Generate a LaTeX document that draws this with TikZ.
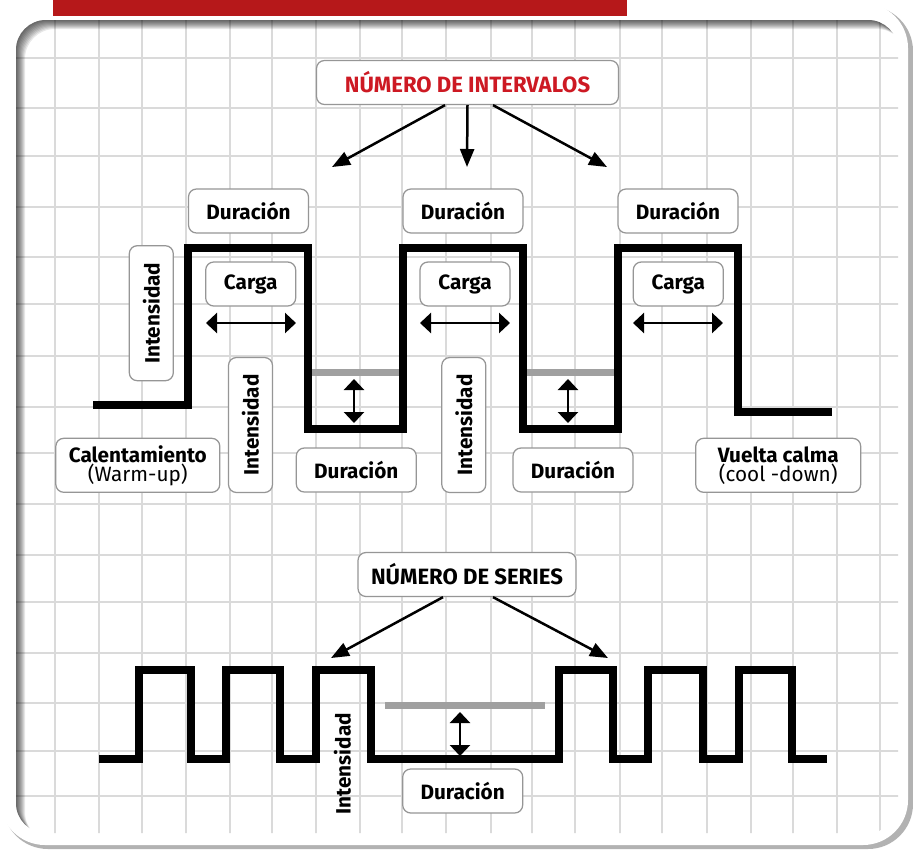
\documentclass[tikz,border=0pt]{standalone}
\usepackage{fontspec}
\setmainfont{Fira Sans}
\usepackage{tikz}
\usetikzlibrary{arrows.meta}
\definecolor{accentred}{RGB}{205, 25, 35}
\definecolor{bannerred}{RGB}{182, 24, 26}
\definecolor{boxgray}{RGB}{150, 150, 150}
\definecolor{gridgray}{RGB}{218, 218, 218}
\definecolor{bargray}{RGB}{160, 160, 160}

\begin{document}
\begin{tikzpicture}[x=0.2mm, y=-0.2mm,
    labelbox/.style={draw=boxgray, line width=0.25mm, fill=white, rounded corners=1.6mm,
        inner sep=0pt, minimum height=8.8mm, align=center,
        font=\fontsize{11.8}{10.8}\selectfont\bfseries},
    titlebox/.style={labelbox, font=\fontsize{12.6}{14}\selectfont\bfseries},
    sidebox/.style={labelbox, rotate=90, minimum width=27mm},
    wave/.style={line width=1.45mm, line join=miter},
    restbar/.style={bargray, line width=1.4mm},
    pointer/.style={line width=0.5mm, -{Triangle[length=3.6mm, width=2.8mm]}},
    rangearrow/.style={line width=0.5mm, {Triangle[length=2.2mm, width=4mm]}-{Triangle[length=2.2mm, width=4mm]}}]

    \useasboundingbox (0,0) rectangle (913,849);
    \fill[white] (0,0) rectangle (913,849);

    % frame
    \fill[black!30, rounded corners=9mm] (3,6) rectangle (913,849);
    \fill[white, rounded corners=9mm] (0,3) rectangle (908,845);
    \begin{scope}
        \clip[rounded corners=6mm] (16,20) rectangle (898,833);
        \foreach \gx in {55,99,142,186,230,272,316,360,402,446,491,532,575,620,662,707,751,793,837,880}
            \draw[gridgray, line width=0.3mm] (\gx,0) -- (\gx,849);
        \foreach \gy in {58,108,156,207,257,304,356,407,453,504,555,602,653,703,751,796}
            \draw[gridgray, line width=0.3mm] (0,\gy) -- (913,\gy);
        % sunken edge
        \foreach \k in {1,...,9}
            \fill[black, opacity=0.09, even odd rule] (0,0) rectangle (913,849)
                [rounded corners=6mm] (16+\k,20+\k) rectangle (898+\k,833+\k);
    \end{scope}
    \fill[bannerred] (53,0) rectangle (627,16);

    % intervals
    \draw[restbar] (308,372) -- (403,372);
    \draw[restbar] (523,372) -- (618,372);
    \draw[wave] (93,405) -| (188,248) -| (308,429) -| (403,248) -| (523,429) -| (618,248) -| (738,412) -- (832,412);

    \node[titlebox, text=accentred, minimum width=60.4mm] (intervals) at (467.5,82.5) {NÚMERO DE INTERVALOS};
    \coordinate (tipA) at (332,167);
    \coordinate (tipB) at (467,167);
    \coordinate (tipC) at (607,167);
    \draw[pointer] ([xshift=-4.5mm]intervals.south) -- (tipA);
    \draw[pointer] (intervals.south) -- (tipB);
    \draw[pointer] ([xshift=5.1mm]intervals.south) -- (tipC);

    \node[labelbox, minimum width=24mm] (durA) at (248.5,211) {Duración};
    \node[labelbox, minimum width=24mm] (durB) at (463,211) {Duración};
    \node[labelbox, minimum width=24mm] (durC) at (678,211) {Duración};

    \node[labelbox, minimum width=18mm] (loadA) at (250.7,284) {Carga};
    \node[labelbox, minimum width=18mm] (loadB) at (465,284) {Carga};
    \node[labelbox, minimum width=18mm] (loadC) at (678.3,284) {Carga};
    \foreach \lx/\rx [count=\i] in {206/296, 420/510, 633/723} {
        \coordinate (loadL\i) at (\lx,323);
        \coordinate (loadR\i) at (\rx,323);
        \draw[rangearrow] (loadL\i) -- (loadR\i);
    }

    \node[sidebox] (intA) at (151.3,313.2) {Intensidad};
    \node[sidebox] (intB) at (250.5,425) {Intensidad};
    \node[sidebox] (intC) at (463.8,425) {Intensidad};
    \foreach \dx [count=\i] in {354, 568} {
        \coordinate (dropT\i) at (\dx,379);
        \coordinate (dropB\i) at (\dx,423);
        \draw[rangearrow] (dropT\i) -- (dropB\i);
    }

    \node[labelbox, minimum width=24mm] (restA) at (356.3,470) {Duración};
    \node[labelbox, minimum width=24mm] (restB) at (573,470) {Duración};
    \node[labelbox, minimum width=32.8mm, minimum height=10.8mm] (warmup) at (137.8,465.3)
        {Calentamiento\\{\mdseries (Warm-up)}};
    \node[labelbox, minimum width=33mm, minimum height=10.8mm] (cooldown) at (778.2,465.3)
        {Vuelta calma\\{\mdseries (cool -down)}};

    % series
    \draw[restbar] (385,705) -- (545,705);
    \draw[wave] (99,759) -| (139,670) -| (191,759) -| (226,670) -| (280,759) -| (316,670) -| (371,759)
        -| (559,670) -| (613,759) -| (648,670) -| (703,759) -| (739,670) -| (792,759) -- (827,759);

    \node[titlebox, minimum width=43.6mm] (series) at (467,574.5) {NÚMERO DE SERIES};
    \coordinate (tipD) at (331,658);
    \coordinate (tipE) at (608,658);
    \draw[pointer] ([xshift=-4.8mm]series.south) -- (tipD);
    \draw[pointer] ([xshift=5.2mm]series.south) -- (tipE);

    \coordinate (pauseT) at (460,712);
    \coordinate (pauseB) at (460,756);
    \draw[rangearrow] (pauseT) -- (pauseB);
    \node[labelbox, minimum width=24mm] (pause) at (462.7,791) {Duración};
    \node[rotate=90, inner sep=0pt, font=\fontsize{11.8}{10.8}\selectfont\bfseries] (seriesint) at (342.3,763.7) {Intensidad};
\end{tikzpicture}
\end{document}
